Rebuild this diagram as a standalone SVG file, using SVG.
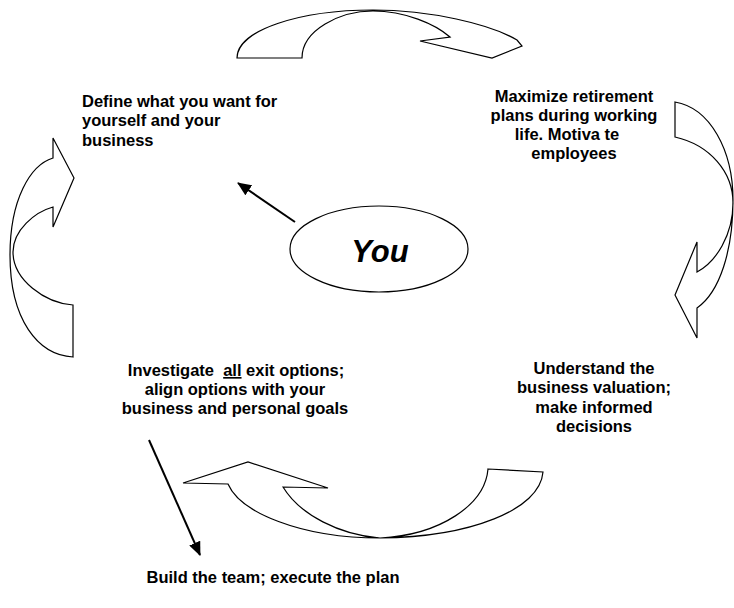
<svg xmlns="http://www.w3.org/2000/svg" width="734" height="608" viewBox="0 0 734 608">
<defs>
<style>
.blk{fill:#fff;stroke:#000;stroke-width:1.2;stroke-linejoin:miter}
.lbl{font-family:"Liberation Sans",Arial,sans-serif;font-weight:bold;font-size:16.5px;fill:#000}
.ptr{stroke:#000;stroke-width:2;fill:none}
</style>
<marker id="ah" viewBox="0 0 14 12" refX="13" refY="6" markerWidth="14" markerHeight="12" markerUnits="userSpaceOnUse" orient="auto"><path d="M0,0 L14,6 L0,12 Z" fill="#000"/></marker>
</defs>
<rect width="734" height="608" fill="#fff"/>
<g id="connectors">
<path id="arrow-top" class="blk" d="M237,58 L302,58 C302,30 340,11 373,11 C405,11 435,24 450,37 L420,41 L492,58 L522,46 L517,40 C490,24 430,10 373,10 C300,10 237,30 237,58 Z"/>
<path id="arrow-right" class="blk" d="M675,102 L675,137 C710,145 733,172 733,203 C733,235 716,262 697,272 L697,242 L675,295 L697,338 L697,308 C720,292 733,250 733,200 C733,150 710,108 675,102 Z"/>
<path id="arrow-bottom" class="blk" d="M488,469 L543,472 C540,510 470,537 380,538 C300,538 240,512 228,484 L183,483 L248,462 L328,488 L283,487 C300,515 340,535 380,538 C440,535 485,505 488,469 Z"/>
<path id="arrow-left" class="blk" d="M73,305 L73,357 C38,355 10,320 10,255 C10,200 30,165 53,158 L53,138 L74,178 L53,227 L53,207 C35,212 13,230 13,252 C13,280 45,303 73,305 Z"/>
<line class="ptr" x1="295" y1="222" x2="238" y2="183" marker-end="url(#ah)"/>
<line class="ptr" x1="149" y1="440" x2="200" y2="555" marker-end="url(#ah)"/>
</g>
<g id="node-you">
<ellipse cx="379" cy="249" rx="89" ry="43" fill="#fff" stroke="#000" stroke-width="1.2"/>
<text x="380" y="262" text-anchor="middle" font-family="Liberation Sans,Arial,sans-serif" font-weight="bold" font-style="italic" font-size="31">You</text>
</g>
<g id="node-define">
<text class="lbl" x="82" y="107">Define what you want for</text>
<text class="lbl" x="82" y="126">yourself and your</text>
<text class="lbl" x="82" y="146">business</text>
</g>
<g id="node-maximize">
<text class="lbl" x="574" y="102" text-anchor="middle">Maximize retirement</text>
<text class="lbl" x="574" y="121" text-anchor="middle">plans during working</text>
<text class="lbl" x="567" y="140" text-anchor="middle">life. Motiva te</text>
<text class="lbl" x="574" y="159" text-anchor="middle">employees</text>
</g>
<g id="node-understand">
<text class="lbl" x="594" y="374" text-anchor="middle">Understand the</text>
<text class="lbl" x="594" y="393" text-anchor="middle">business valuation;</text>
<text class="lbl" x="594" y="413" text-anchor="middle">make informed</text>
<text class="lbl" x="594" y="432" text-anchor="middle">decisions</text>
</g>
<g id="node-investigate">
<text class="lbl" x="236" y="376" text-anchor="middle" xml:space="preserve">Investigate  <tspan text-decoration="underline">all</tspan> exit options;</text>
<text class="lbl" x="235" y="395" text-anchor="middle">align options with your</text>
<text class="lbl" x="235" y="414" text-anchor="middle">business and personal goals</text>
</g>
<g id="node-build">
<text class="lbl" x="273" y="583" text-anchor="middle">Build the team; execute the plan</text>
</g>
</svg>
